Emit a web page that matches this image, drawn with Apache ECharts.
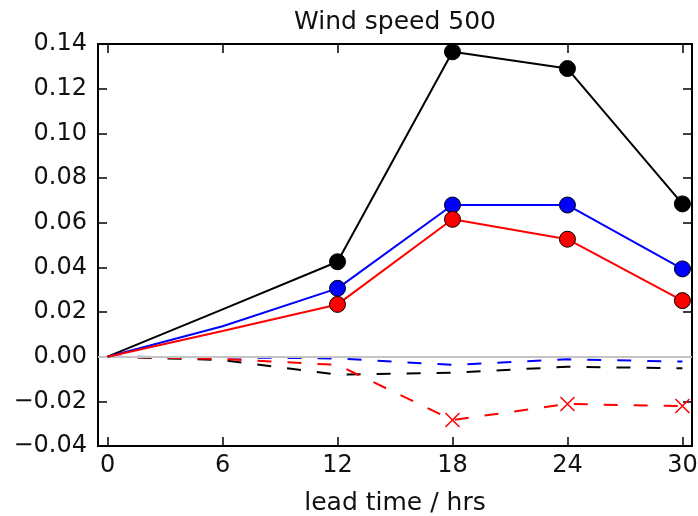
<!DOCTYPE html>
<html>
<head>
<meta charset="utf-8">
<script src="https://cdn.jsdelivr.net/npm/echarts@6/dist/echarts.min.js"></script>
<style>
  html, body { margin: 0; padding: 0; background: #fff; }
  #chart { width: 698px; height: 516px; }
</style>
</head>
<body>
<div id="chart"></div>
<script>
// Lead times (hours) and score differences for wind speed at 500 hPa
const leadTimes = [0, 6, 12, 18, 24, 30];
const xTicks = [0, 6, 12, 18, 24, 30];

const blackSolid = [0, 0.0212, 0.0425, 0.1365, 0.1290, 0.0684];
const blueSolid  = [0, 0.0136, 0.0306, 0.0679, 0.0679, 0.0393];
const redSolid   = [0, 0.0115, 0.0234, 0.0615, 0.0526, 0.0251];

const blackDashed = [0, -0.0015, -0.0080, -0.0072, -0.0045, -0.0052];
const blueDashed  = [0, -0.0003, -0.0008, -0.0037, -0.0012, -0.0022];
const redDashed   = [0, -0.0010, -0.0037, -0.0284, -0.0212, -0.0221];

// which lead times carry a marker on each curve
const solidMarked = [false, false, true, true, true, true];
const crossMarked = [false, false, false, true, true, true];

const FONT = 'DejaVu Sans';
const CROSS = 'path://M0,0L10,10M10,0L0,10';

// plot box (pixels)
const GRID = { left: 98, right: 6, top: 44, bottom: 70 };
const CHART_W = 698;

function points(vals, symbol, marked) {
  return leadTimes.map((t, i) => ({
    value: [t, vals[i]],
    symbol: (symbol && marked && marked[i]) ? symbol : 'none'
  }));
}

function solidSeries(vals, color) {
  return {
    type: 'line',
    data: points(vals, 'circle', solidMarked),
    symbolSize: 16,
    showAllSymbol: true,
    lineStyle: { color: color, width: 2 },
    itemStyle: { color: color, borderColor: '#000', borderWidth: 1 },
    z: 5,
    animation: false
  };
}

function dashedSeries(vals, color, symbol, marked) {
  return {
    type: 'line',
    data: points(vals, symbol, marked),
    symbolSize: 14,
    symbolKeepAspect: true,
    showAllSymbol: true,
    lineStyle: { color: color, width: 2, type: [14, 16] },
    itemStyle: { color: 'rgba(0,0,0,0)', borderColor: color, borderWidth: 1.5 },
    z: 4,
    animation: false
  };
}

const fmtY = v => {
  const s = Math.abs(v).toFixed(2);
  return v < -1e-9 ? '\u2212' + s : s;
};

const frameAxis = {
  axisLine: { show: true, onZero: false, lineStyle: { color: '#000', width: 2 } },
  axisTick: { show: true, inside: true, length: 9, lineStyle: { color: '#000', width: 1.5 } },
  splitLine: { show: false }
};

const chart = echarts.init(document.getElementById('chart'), null, { renderer: 'canvas' });

const zeroLine = {
  type: 'line',
  data: [],
  silent: true,
  markLine: {
    silent: true,
    symbol: 'none',
    label: { show: false },
    lineStyle: { color: '#c4c4c4', width: 2, type: 'solid' },
    data: [{ yAxis: 0 }],
    animation: false
  },
  z: 1
};

// title is centred over the plot box rather than the whole canvas
const plotCentreX = GRID.left + (CHART_W - GRID.left - GRID.right) / 2;

chart.setOption({
  animation: false,
  backgroundColor: '#fff',
  grid: Object.assign({ containLabel: false, outerBoundsMode: 'none' }, GRID),
  graphic: [{
    type: 'text',
    x: plotCentreX,
    y: 22,
    silent: true,
    style: {
      text: 'Wind speed 500',
      font: 'normal 25px "' + FONT + '"',
      fill: '#111',
      align: 'center',
      verticalAlign: 'middle'
    }
  }],
  xAxis: [
    Object.assign({}, frameAxis, {
      type: 'value', position: 'bottom', min: -0.5, max: 30.5,
      name: 'lead time / hrs', nameLocation: 'middle', nameGap: 45,
      nameTextStyle: { fontFamily: FONT, fontSize: 25, color: '#111' },
      axisTick: Object.assign({}, frameAxis.axisTick, { customValues: xTicks }),
      axisLabel: { customValues: xTicks, fontFamily: FONT, fontSize: 24, color: '#111', margin: 8 }
    }),
    Object.assign({}, frameAxis, {
      type: 'value', position: 'top', min: -0.5, max: 30.5,
      axisTick: Object.assign({}, frameAxis.axisTick, { customValues: xTicks }),
      axisLabel: { show: false }
    })
  ],
  yAxis: [
    Object.assign({}, frameAxis, {
      type: 'value', position: 'left', min: -0.04, max: 0.14, interval: 0.02,
      axisLabel: { formatter: fmtY, fontFamily: FONT, fontSize: 24, color: '#111', margin: 11 }
    }),
    Object.assign({}, frameAxis, {
      type: 'value', position: 'right', min: -0.04, max: 0.14, interval: 0.02,
      axisLabel: { show: false }
    })
  ],
  series: [
    zeroLine,
    dashedSeries(blueDashed, '#0000ff', null, null),
    dashedSeries(blackDashed, '#000000', null, null),
    dashedSeries(redDashed, '#ff0000', CROSS, crossMarked),
    solidSeries(blackSolid, '#000000'),
    solidSeries(blueSolid, '#0000ff'),
    solidSeries(redSolid, '#ff0000')
  ]
});
</script>
</body>
</html>
